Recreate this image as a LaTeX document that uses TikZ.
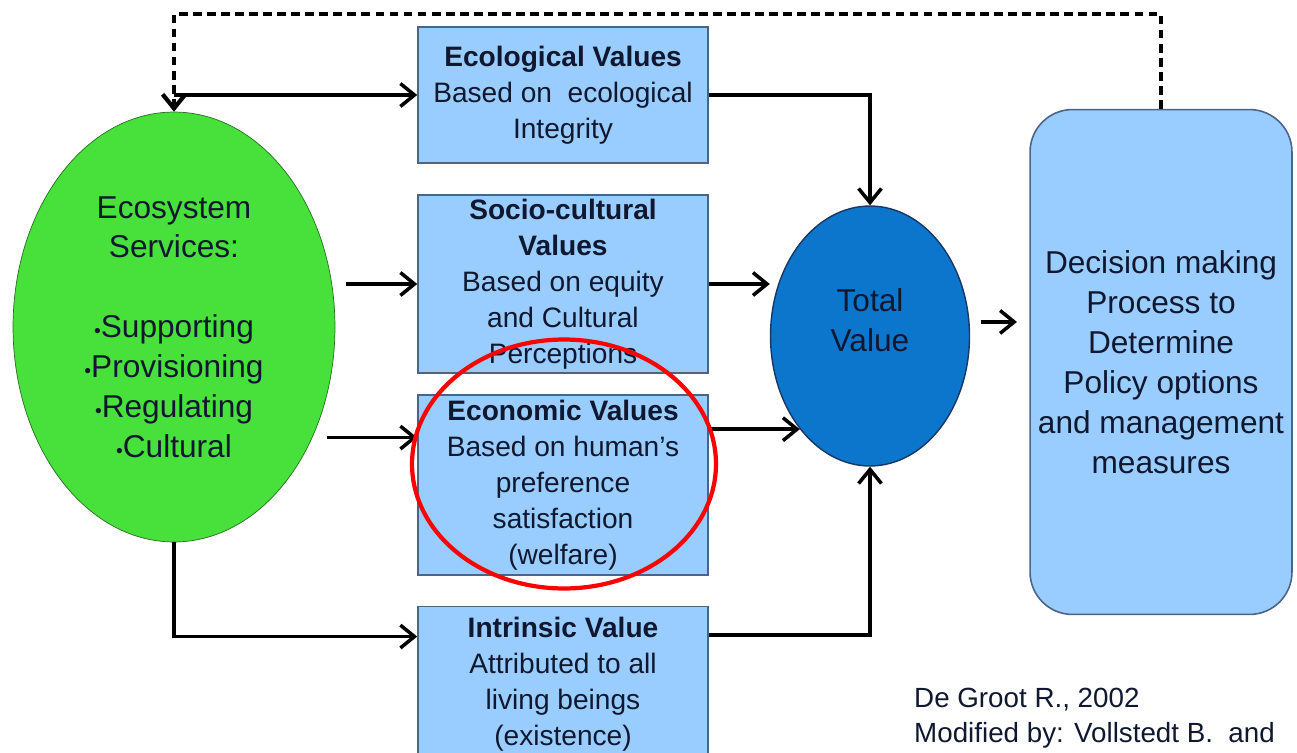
\documentclass[tikz,border=0pt]{standalone}
\usepackage{fontspec}
\setmainfont{Liberation Sans}
\usetikzlibrary{shapes.geometric,arrows.meta}
\definecolor{leaf}{RGB}{72,224,58}
\definecolor{leafedge}{RGB}{40,110,35}
\definecolor{boxfill}{RGB}{153,204,255}
\definecolor{boxedge}{RGB}{75,100,135}
\definecolor{deep}{RGB}{12,118,204}
\definecolor{deepedge}{RGB}{25,55,100}
\definecolor{ink}{RGB}{16,24,48}
\newcommand{\bul}{{\fontsize{11}{11}\selectfont•}}

\begin{document}
\begin{tikzpicture}[x=0.02cm,y=-0.02cm,
	flow/.style={line width=2pt,-{Straight Barb[length=8pt,width=13pt]}},
	back/.style={flow,line width=2.4pt,dash pattern=on 5pt off 3pt},
	valbox/.style={rectangle,draw=boxedge,line width=0.9pt,fill=boxfill,minimum width=5.8cm,
		inner sep=0pt,align=center,text=ink,font=\fontsize{16}{20.5}\selectfont},
	big/.style={align=center,text=ink,font=\fontsize{18}{22.7}\selectfont}]
	\useasboundingbox (0,0) rectangle (1297,753);
	%\draw[step=50,gray,very thin] (0,0) grid (1297,753);
	\node[ellipse,draw=leafedge,fill=leaf,minimum width=6.44cm,minimum height=8.6cm,inner sep=0pt,big] (ecosys) at (174,327)
		{Ecosystem\\Services:\\[22.7pt]\bul Supporting\\\bul Provisioning\\\bul Regulating\\\bul Cultural};
	\node[valbox,minimum height=2.72cm] (eco) at (563,95) {\textbf{Ecological Values}\\Based on\ \ ecological\\Integrity};
	\node[valbox,minimum height=3.56cm] (soc) at (563,284) {\textbf{Socio-cultural}\\\textbf{Values}\\Based on equity\\and Cultural\\Perceptions};
	\node[valbox,minimum height=3.6cm] (econ) at (563,485) {\textbf{Economic Values}\\Based on human's\\preference\\satisfaction\\(welfare)};
	\node[valbox,minimum height=3.1cm] (intr) at (563,684) {\textbf{Intrinsic Value}\\Attributed to all\\living beings\\(existence)};
	\node[ellipse,draw=deepedge,fill=deep,line width=0.8pt,minimum width=3.98cm,minimum height=5.2cm] (total) at (870,336) {};
	\node[big] (totaltxt) at (870,320) {Total\\Value};
	\node[rectangle,rounded corners=0.85cm,draw=boxedge,line width=0.9pt,fill=boxfill,minimum width=5.24cm,minimum height=10.1cm,big] (dec) at (1161,362)
		{Decision making\\Process to\\Determine\\Policy options\\and management\\measures};
	\node[anchor=north west,align=left,font=\fontsize{15.8}{20}\selectfont,text=ink] (src) at (908,682) {De Groot R., 2002\\Modified by: Vollstedt B.\ \ and};

	\coordinate (fb) at (174,14);
	\draw[back] (dec.north) |- (fb) -- (ecosys.north);
	\draw[flow] (fb |- eco.west) -- (eco.west);
	\draw[flow] (eco.east) -| (total.north);
	\draw[flow,shorten <=6pt] (ecosys.east |- soc.west) -- (soc.west);
	\draw[flow] (soc.east) -- (soc.east -| total.west);
	\coordinate (ein) at ([yshift=27pt]econ.west);
	\draw[flow,shorten <=-5pt] (ein -| ecosys.east) -- (ein);
	\draw[flow] (total.233 -| econ.east) -- (total.233);
	\draw[flow] (ecosys.south) |- ([yshift=27pt]intr.west);
	\draw[flow] ([yshift=28pt]intr.east) -| (total.south);
	\coordinate (tv) at ([yshift=8pt]total.east);
	\draw[flow,shorten <=6pt,shorten >=7pt] (tv) -- (tv -| dec.west);

	\node[ellipse,draw=red,line width=2.4pt,minimum width=6.08cm,minimum height=4.98cm] (hl) at (564,464) {};
\end{tikzpicture}
\end{document}
